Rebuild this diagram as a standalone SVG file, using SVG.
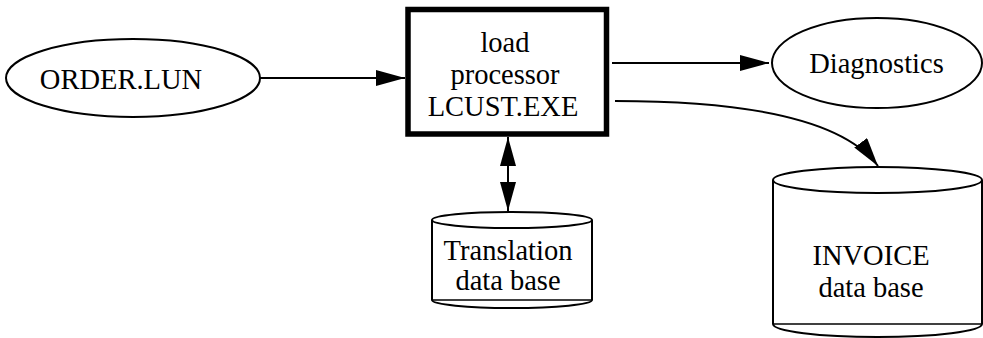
<svg xmlns="http://www.w3.org/2000/svg" width="983" height="338" viewBox="0 0 983 338">
  <style>
    .shape { fill: #fff; stroke: #000; stroke-width: 2; }
    .proc { fill: #fff; stroke: #000; stroke-width: 5.5; }
    .edge { fill: none; stroke: #000; stroke-width: 2; }
    .thin { fill: none; stroke: #000; stroke-width: 1.3; }
    text { font-family: "Liberation Serif", "Times New Roman", serif; font-size: 28.5px; fill: #000; text-anchor: middle; }
  </style>
  <defs>
    <marker id="arrow" viewBox="0 0 29 16" refX="29" refY="8" markerWidth="29" markerHeight="16" markerUnits="userSpaceOnUse" orient="auto-start-reverse">
      <path d="M0,0 L29,8 L0,16 z" fill="#000"/>
    </marker>
  </defs>
  <rect width="983" height="338" fill="#fff"/>

  <!-- input file -->
  <g id="order-lun">
    <ellipse class="shape" cx="133" cy="78" rx="127" ry="39"/>
    <text x="121" y="89">ORDER.LUN</text>
  </g>

  <!-- processor -->
  <g id="load-processor">
    <rect class="proc" x="408" y="9.5" width="198.5" height="124.5"/>
    <text x="505" y="51.5">load</text>
    <text x="505" y="83.5">processor</text>
    <text x="503" y="115.5">LCUST.EXE</text>
  </g>

  <!-- diagnostics output -->
  <g id="diagnostics">
    <ellipse class="shape" cx="877" cy="63" rx="105" ry="45"/>
    <text x="876.5" y="73">Diagnostics</text>
  </g>

  <!-- translation data base -->
  <g id="translation-db">
    <path class="shape" d="M432,220 L432,300 A80,8 0 0 0 592,300 L592,220"/>
    <line class="thin" x1="432" y1="300" x2="592" y2="300"/>
    <ellipse class="shape" cx="512" cy="220" rx="80" ry="8"/>
    <text x="508" y="260">Translation</text>
    <text x="508" y="290">data base</text>
  </g>

  <!-- invoice data base -->
  <g id="invoice-db">
    <path class="shape" d="M773,180 L773,324 A104.5,13 0 0 0 982,324 L982,180"/>
    <line class="thin" x1="773" y1="324" x2="982" y2="324"/>
    <ellipse class="shape" cx="877.5" cy="180" rx="104.5" ry="13"/>
    <text x="871" y="265">INVOICE</text>
    <text x="871" y="297">data base</text>
  </g>

  <g id="connectors">
    <line class="edge" x1="260" y1="78" x2="405" y2="78" marker-end="url(#arrow)"/>
    <line class="edge" x1="612" y1="63" x2="769" y2="63" marker-end="url(#arrow)"/>
    <path class="edge" d="M615,101 C730,101 840,115 878,166" marker-end="url(#arrow)"/>
    <line class="edge" x1="508" y1="137" x2="508" y2="211" marker-start="url(#arrow)" marker-end="url(#arrow)"/>
  </g>
</svg>
